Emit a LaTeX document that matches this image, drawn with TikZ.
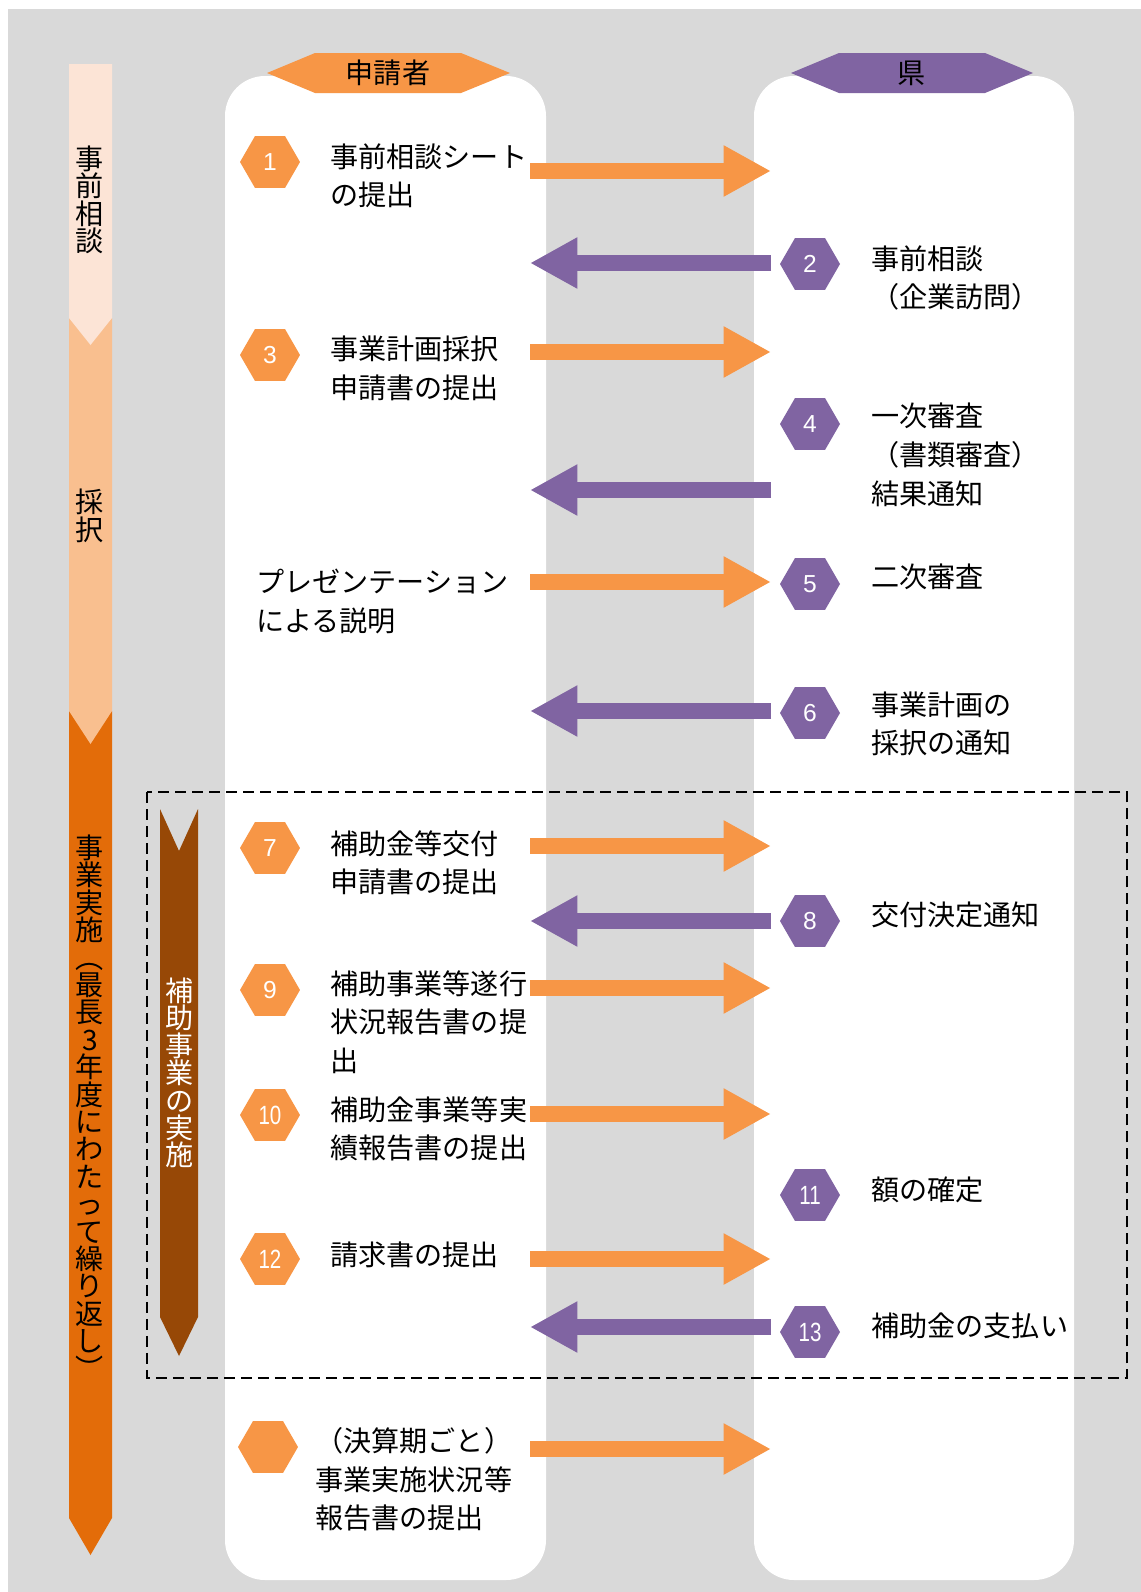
\documentclass[tikz,border=0pt]{standalone}
\usepackage{fontspec}
\newfontfamily\jp{Noto Sans CJK JP}
\newfontfamily\numf{Liberation Sans}
\usetikzlibrary{arrows.meta,shapes.geometric}
\definecolor{bgGray}{HTML}{D9D9D9}
\definecolor{appOrange}{HTML}{F79646}
\definecolor{prefPurple}{HTML}{8064A2}
\definecolor{phaseA}{HTML}{FCE4D6}
\definecolor{phaseB}{HTML}{F9BF8F}
\definecolor{phaseC}{HTML}{E36C09}
\definecolor{implBrown}{HTML}{974806}

\begin{document}
\begin{tikzpicture}[x=0.02cm, y=-0.02cm,
  lbl/.style={anchor=north west, inner sep=0pt, align=left, font=\jp\fontsize{16}{22}\selectfont},
  vlbl/.style={inner sep=0pt, align=center, font=\jp\fontsize{16}{15.6}\selectfont},
  hexbase/.style={regular polygon, regular polygon sides=6, minimum size=1.2cm, inner sep=0pt,
    text=white, font=\numf\fontsize{14}{14}\selectfont},
  hexA/.style={hexbase, fill=appOrange},
  hexB/.style={hexbase, fill=prefPurple},
  twodig/.style={font=\numf\fontsize{15}{15}\selectfont},
  sendarr/.style={appOrange, line width=0.32cm, -{Triangle[length=0.95cm, width=0.96cm]}},
  backarr/.style={sendarr, prefPurple}]
  \useasboundingbox (0,0) rectangle (1141,1592);
  \fill[bgGray] (8,9) rectangle (1141,1592);

  \fill[phaseC] (69,711) -- (112,711) -- (112,1518) -- (90.5,1555) -- (69,1518) -- cycle;
  \fill[phaseB] (69,318) -- (112,318) -- (112,711) -- (90.5,744) -- (69,711) -- cycle;
  \fill[phaseA] (69,64) -- (112,64) -- (112,318) -- (90.5,345) -- (69,318) -- cycle;
  \node[vlbl] (ph1) at (90,200) {事\\前\\相\\談};
  \node[vlbl] (ph2) at (90,516) {採\\択};
  \node[vlbl] (ph3) at (90,1107) {事\\業\\実\\施\\︵\\最\\長\\3\\年\\度\\に\\わ\\た\\っ\\て\\繰\\り\\返\\し\\︶};

  \fill[white, rounded corners=0.8cm] (225,76) rectangle (546,1580);
  \fill[white, rounded corners=0.8cm] (754,76) rectangle (1074,1580);
  \fill[appOrange] (267,73) -- (315,53) -- (461,53) -- (510,73) -- (461,93) -- (315,93) -- cycle;
  \fill[prefPurple] (791,73) -- (839,53) -- (985,53) -- (1033,73) -- (985,93) -- (839,93) -- cycle;
  \node[font=\jp\fontsize{16}{16}\selectfont] (app) at (388,73) {申請者};
  \node[font=\jp\fontsize{16}{16}\selectfont] (pref) at (912,73) {県};

  \draw[dashed, dash pattern=on 0.22cm off 0.12cm, line width=1.1pt] (147,792) rectangle (1127,1378);
  \fill[implBrown] (160,809) -- (179,851) -- (198,809) -- (198,1317) -- (179,1356) -- (160,1317) -- cycle;
  \node[vlbl, text=white] (impl) at (180,1073) {補\\助\\事\\業\\の\\実\\施};

  \node[hexA] (h1) at (270,162) {1};
  \node[hexB] (h2) at (810,264) {2};
  \node[hexA] (h3) at (270,355) {3};
  \node[hexB] (h4) at (810,424) {4};
  \node[hexB] (h5) at (810,584) {5};
  \node[hexB] (h6) at (810,713) {6};
  \node[hexA] (h7) at (270,848) {7};
  \node[hexB] (h8) at (810,921) {8};
  \node[hexA] (h9) at (270,990) {9};
  \node[hexA, twodig] (h10) at (270,1115) {\scalebox{0.78}[1]{10}};
  \node[hexB, twodig] (h11) at (810,1195) {\scalebox{0.78}[1]{11}};
  \node[hexA, twodig] (h12) at (270,1259) {\scalebox{0.78}[1]{12}};
  \node[hexB, twodig] (h13) at (810,1332) {\scalebox{0.78}[1]{13}};
  \node[hexA] (h14) at (268,1447) {};

  \node[lbl] (t1) at (330,143) {事前相談シート\\の提出};
  \node[lbl] (t2) at (871,245) {事前相談\\（企業訪問）};
  \node[lbl] (t3) at (330,336) {事業計画採択\\申請書の提出};
  \node[lbl] (t4) at (871,403) {一次審査\\（書類審査）\\結果通知};
  \node[lbl] (t5a) at (256,569) {プレゼンテーション\\による説明};
  \node[lbl] (t5) at (871,564) {二次審査};
  \node[lbl] (t6) at (871,691) {事業計画の\\採択の通知};
  \node[lbl] (t7) at (330,830) {補助金等交付\\申請書の提出};
  \node[lbl] (t8) at (871,901) {交付決定通知};
  \node[lbl] (t9) at (330,970) {補助事業等遂行\\状況報告書の提\\出};
  \node[lbl] (t10) at (330,1096) {補助金事業等実\\績報告書の提出};
  \node[lbl] (t11) at (871,1176) {額の確定};
  \node[lbl] (t12) at (330,1241) {請求書の提出};
  \node[lbl] (t13) at (871,1312) {補助金の支払い};
  \node[lbl] (t14) at (315,1427) {（決算期ごと）\\事業実施状況等\\報告書の提出};

  \foreach \n/\y in {1/171,2/263,3/352,4/490,5/582,6/711,7/846,8/921,9/988,10/1114,12/1259,13/1327,14/1449}{
    \coordinate (L\n) at (530,\y);
    \coordinate (R\n) at (771,\y);
  }
  \foreach \n in {1,3,5,7,9,10,12,14}
    \draw[sendarr] (L\n) -- (R\n);
  \foreach \n in {2,4,6,8,13}
    \draw[backarr] (R\n) -- (L\n);
\end{tikzpicture}
\end{document}
